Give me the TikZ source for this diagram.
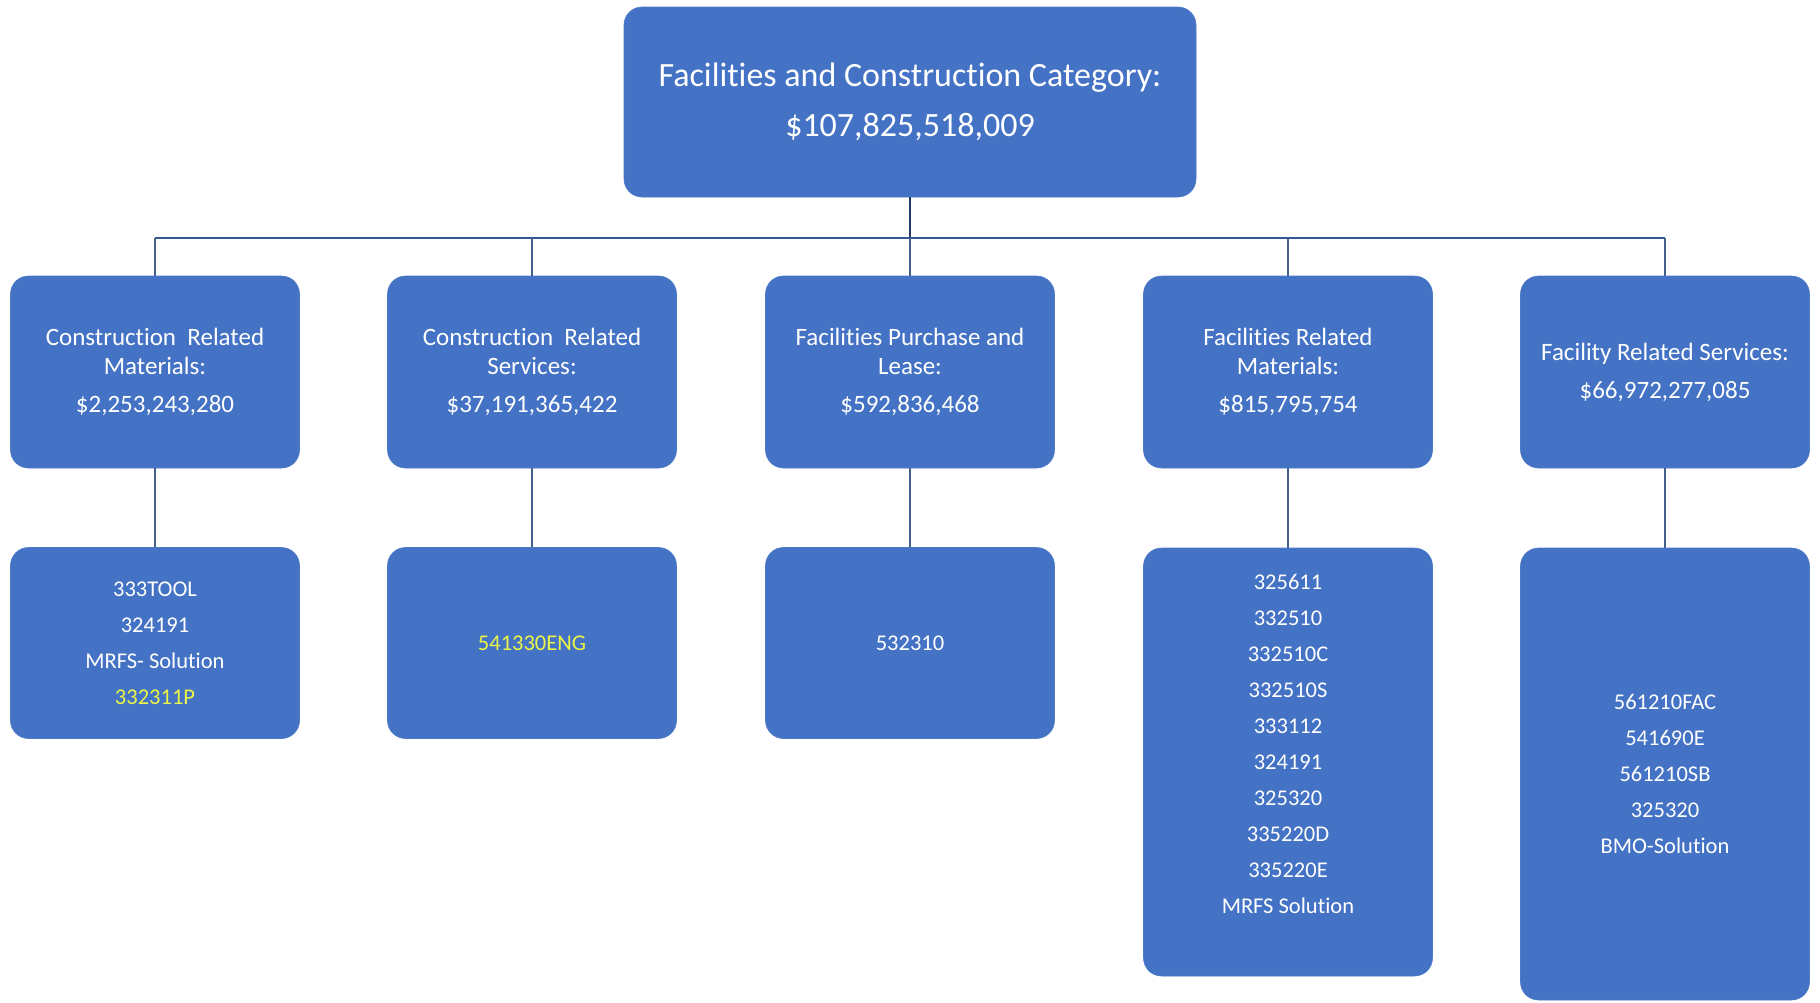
\documentclass[tikz,border=0pt]{standalone}
\usepackage{fontspec}
\setmainfont{Carlito}[Ligatures=NoCommon]
\definecolor{boxblue}{RGB}{68,114,196}
\definecolor{boxedge}{RGB}{78,122,200}
\definecolor{hilite}{RGB}{236,246,70}
\definecolor{linedark}{RGB}{32,56,100}
\definecolor{lineblue}{RGB}{52,86,150}
\definecolor{linegray}{RGB}{70,96,140}
\begin{document}
\begin{tikzpicture}[x=1pt,y=-1pt,
  box/.style={draw=boxedge, fill=boxblue, rounded corners=18pt, text=white,
              align=center, inner sep=0pt, line width=0.6pt, minimum width=289pt},
  topbox/.style={box, minimum width=572pt, minimum height=190pt,
              font=\fontsize{34}{50}\selectfont},
  catbox/.style={box, minimum height=192pt, font=\fontsize{25}{29}\selectfont},
  codebox/.style={box, font=\fontsize{22.5}{36}\selectfont},
  conn/.style={draw=linegray, line width=1.2pt}]
\useasboundingbox (0,0) rectangle (1820,1002);

\node[topbox] (top) at (910,102) {Facilities and Construction\ Category:\\\$107,825,518,009};

\node[catbox] (c1) at (155,372) {Construction\ \ Related\\Materials:\\[9pt]\$2,253,243,280};
\node[catbox] (c2) at (532,372) {Construction\ \ Related\\Services:\\[9pt]\$37,191,365,422};
\node[catbox] (c3) at (910,372) {Facilities Purchase and\\Lease:\\[9pt]\$592,836,468};
\node[catbox] (c4) at (1288,372) {Facilities Related\\Materials:\\[9pt]\$815,795,754};
\node[catbox] (c5) at (1665,372) {Facility Related Services:\\[9pt]\$66,972,277,085};

\node[codebox, minimum height=191pt] (d1) at (155,643) {333TOOL\\324191\\MRFS- Solution\\{\color{hilite}332311P}};
\node[codebox, minimum height=191pt] (d2) at (532,643) {{\color{hilite}541330ENG}};
\node[codebox, minimum height=191pt] (d3) at (910,643) {532310};
\node[codebox, minimum height=428pt] (d4) at (1288,762) {325611\\332510\\332510C\\332510S\\333112\\324191\\325320\\335220D\\335220E\\MRFS Solution\\\mbox{}};
\node[codebox, minimum height=452pt] (d5) at (1665,774) {561210FAC\\541690E\\561210SB\\325320\\BMO-Solution};

\coordinate (bus) at (910,238);
\draw[draw=linedark, line width=2pt] (top.south) -- (bus);
\draw[draw=lineblue, line width=1.6pt] (c1.north |- bus) -- (c5.north |- bus);
\foreach \n in {c1,c2,c3,c4,c5} {
  \draw[conn] (\n.north |- bus) -- (\n.north);
}
\draw[conn] (c1.south) -- (d1.north);
\draw[conn] (c2.south) -- (d2.north);
\draw[conn] (c3.south) -- (d3.north);
\draw[conn] (c4.south) -- (d4.north);
\draw[conn] (c5.south) -- (d5.north);
\end{tikzpicture}
\end{document}
